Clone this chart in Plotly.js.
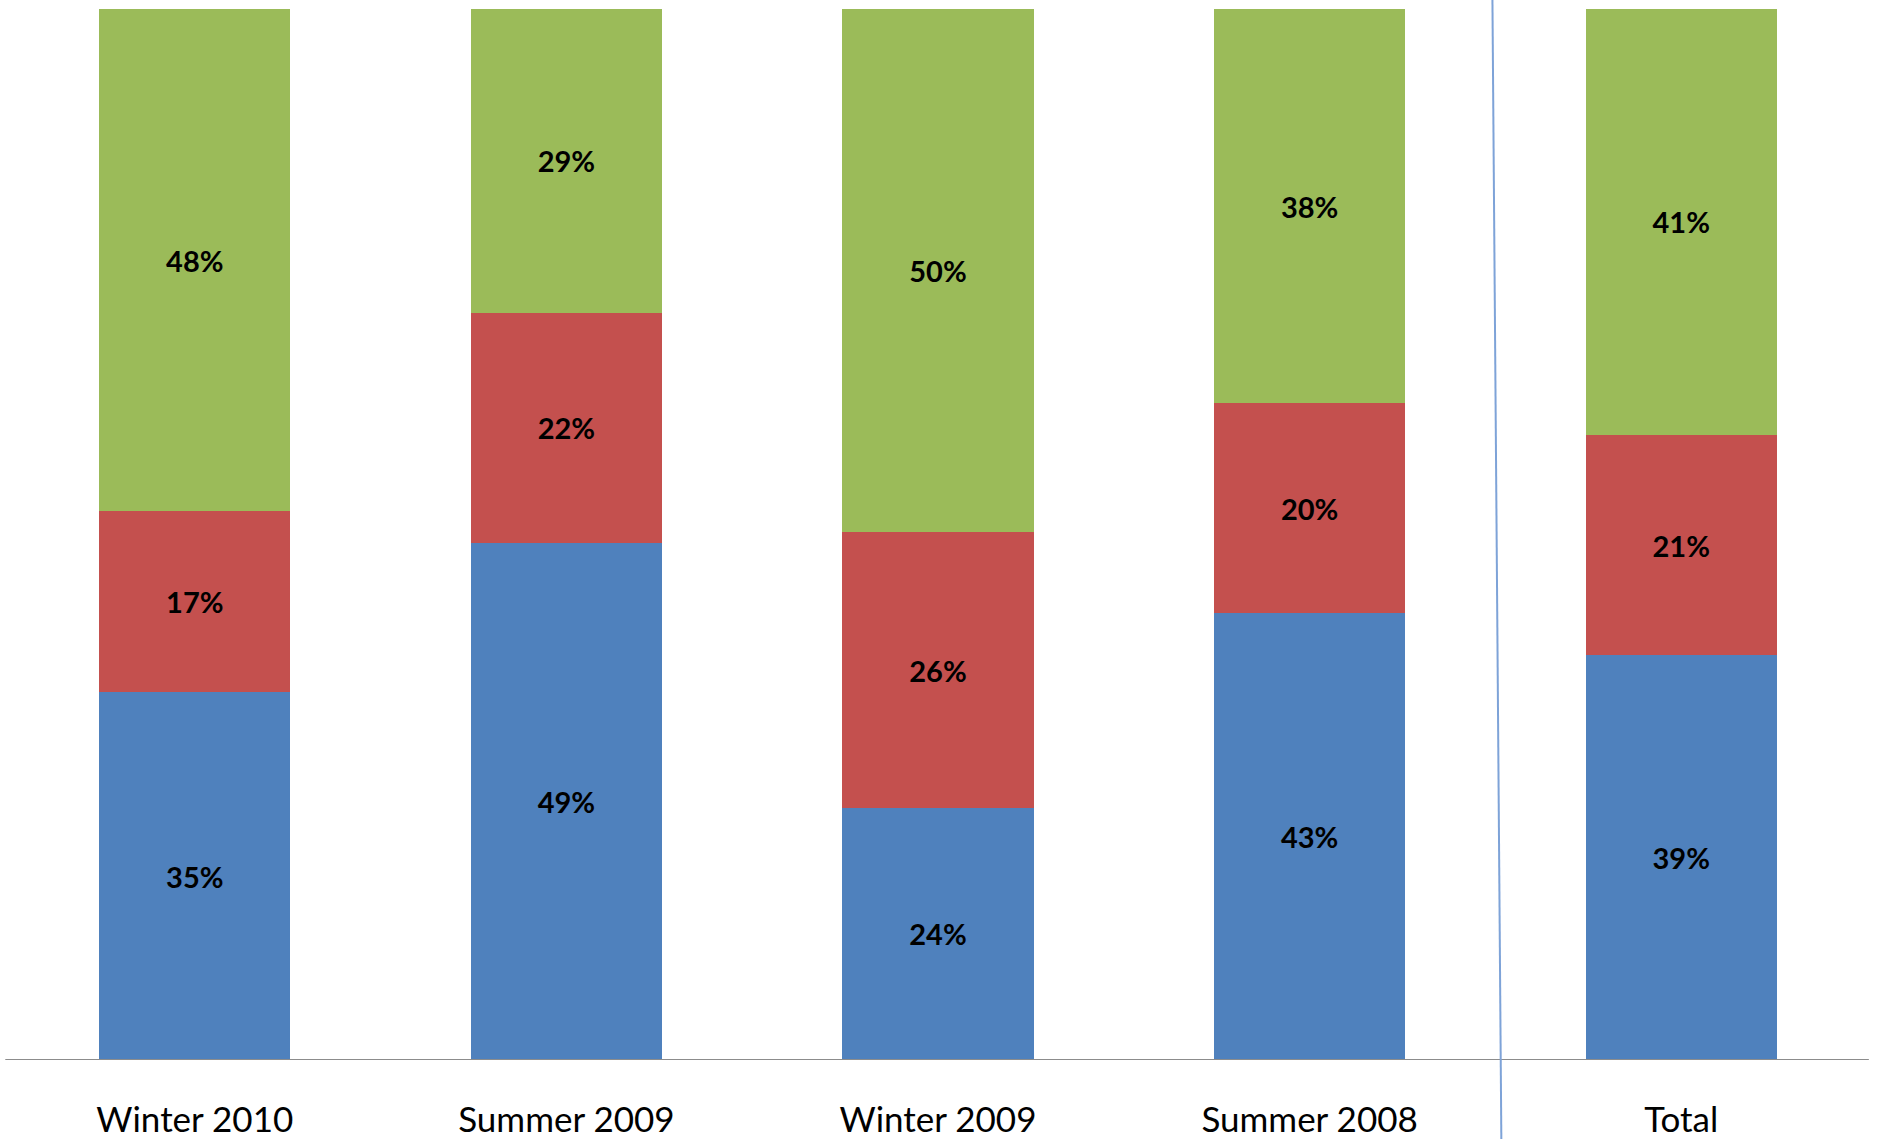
<!DOCTYPE html>
<html>
<head>
<meta charset="utf-8">
<script src="https://cdn.plot.ly/plotly-3.0.1.min.js"></script>
<style>html,body{margin:0;padding:0;background:#fff;}#chart{width:1877px;height:1139px;}</style>
</head>
<body>
<div id="chart"></div>
<script>
const categories = ["Winter 2010", "Summer 2009", "Winter 2009", "Summer 2008", "Total"];
const blueValues  = [35.0, 49.2, 24.0, 42.5, 38.5];
const redValues   = [17.2, 21.9, 26.2, 20.0, 21.0];
const greenValues = [47.8, 28.9, 49.8, 37.5, 40.5];
const blueLabels  = ["35%", "49%", "24%", "43%", "39%"];
const redLabels   = ["17%", "22%", "26%", "20%", "21%"];
const greenLabels = ["48%", "29%", "50%", "38%", "41%"];

const labelFont = {family: "Lato, 'DejaVu Sans', sans-serif", size: 29, color: "#000000", weight: 700};

function series(vals, labels, color) {
  return {
    type: "bar",
    x: categories,
    y: vals,
    text: labels,
    textposition: "inside",
    insidetextanchor: "middle",
    textangle: 0,
    textfont: labelFont,
    marker: {color: color, line: {width: 0}},
    hoverinfo: "skip",
    cliponaxis: false
  };
}

const data = [
  series(blueValues, blueLabels, "#4f81bd"),
  series(redValues, redLabels, "#c4504e"),
  series(greenValues, greenLabels, "#9bbb59")
];

const layout = {
  width: 1877,
  height: 1139,
  margin: {l: 9, r: 10, t: 9, b: 79, pad: 0},
  paper_bgcolor: "#ffffff",
  plot_bgcolor: "#ffffff",
  barmode: "stack",
  bargap: 0.485,
  showlegend: false,
  uniformtext: {mode: false},
  xaxis: {
    type: "category",
    range: [-0.5, 4.5],
    showgrid: false,
    zeroline: false,
    showline: false,
    ticks: "",
    ticklabelstandoff: 36,
    tickfont: {family: "Lato, 'DejaVu Sans', sans-serif", size: 35, color: "#000000"}
  },
  yaxis: {
    range: [0, 100],
    visible: false,
    showgrid: false,
    zeroline: false
  },
  shapes: [
    {type: "line", xref: "paper", yref: "y", x0: -0.002, x1: 1.001, y0: 0, y1: 0,
     line: {color: "#8c8c8c", width: 2}},
    {type: "line", xref: "x", yref: "paper", x0: 3.492, x1: 3.516, y0: 1.0086, y1: -0.0752,
     line: {color: "#7ea3d8", width: 2}}
  ]
};

Plotly.newPlot("chart", data, layout, {staticPlot: true, displayModeBar: false});
</script>
</body>
</html>
